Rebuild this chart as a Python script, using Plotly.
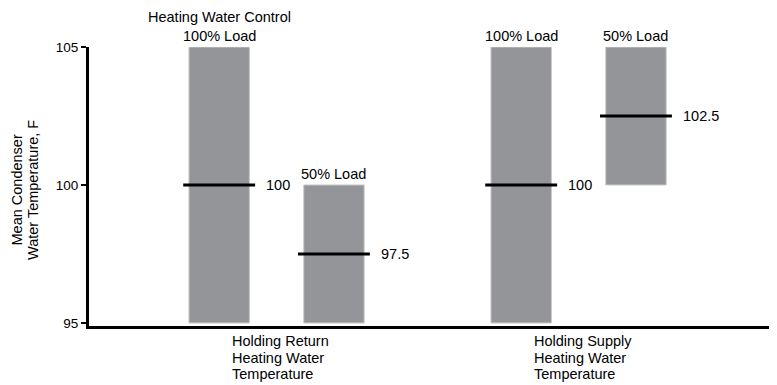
import plotly.graph_objects as go

# ---- data ----
groups = [["Holding Return", "Heating Water", "Temperature"],
          ["Holding Supply", "Heating Water", "Temperature"]]
loads = ["100% Load", "50% Load"]
bar_group = [0, 0, 1, 1]
bar_load = [0, 1, 0, 1]
low = [95, 95, 95, 100]
high = [105, 100, 105, 105]
mean = [100, 97.5, 100, 102.5]
mean_labels = ["100", "97.5", "100", "102.5"]
y_ticks = [95, 100, 105]
top_title = "Heating Water Control"
y_title = ["Mean Condenser", "Water Temperature, F"]

# ---- layout helpers ----
offset = 0.19
bar_w = 0.2
line_half = 0.119
FONT = "Liberation Sans, Arial, sans-serif"
FS = 14.5
PAGE = 8  # default body margin of the html page

xs = [g + (offset if l == 1 else -offset) for g, l in zip(bar_group, bar_load)]

fig = go.Figure()
fig.add_trace(go.Bar(
    x=xs, y=[h - b for h, b in zip(high, low)], base=low, width=bar_w,
    marker=dict(color="#939598", line=dict(color="#c8c8ca", width=1)),
    showlegend=False, hoverinfo="skip"))

for x, m in zip(xs, mean):
    fig.add_trace(go.Scatter(
        x=[x - line_half, x + line_half], y=[m, m], mode="lines",
        line=dict(color="black", width=3), showlegend=False, hoverinfo="skip"))

ann = []
for x, m, t in zip(xs, mean, mean_labels):
    ann.append(dict(x=x + line_half, y=m, text=t, xref="x", yref="y",
                    xanchor="left", yanchor="middle", xshift=9, showarrow=False))
for x, h, l in zip(xs, high, bar_load):
    ann.append(dict(x=x, y=h, text=loads[l], xref="x", yref="y",
                    xanchor="center", yanchor="bottom", yshift=1, showarrow=False))
ann.append(dict(x=xs[0], y=105, text=top_title, xref="x", yref="y",
                xanchor="center", yanchor="bottom", yshift=20, showarrow=False))
for i, g in enumerate(groups):
    for j, line in enumerate(g):
        ann.append(dict(x=i - 0.155, y=0, text=line, xref="x", yref="paper",
                        xanchor="left", yanchor="top", yshift=-5 - 16.5 * j,
                        align="left", showarrow=False))
for j, line in enumerate(y_title):
    ann.append(dict(x=0, y=0.5, text=line, xref="paper", yref="paper",
                    xanchor="center", yanchor="middle", textangle=-90,
                    xshift=-73 + 16.5 * j, yshift=-4, showarrow=False))

fig.update_layout(
    width=777 - PAGE, height=385 - PAGE,
    margin=dict(l=89 - PAGE, r=0, t=47 - PAGE, b=59),
    paper_bgcolor="white", plot_bgcolor="white",
    font=dict(family=FONT, size=FS, color="black"),
    annotations=ann,
    xaxis=dict(range=[-0.621, 1.657], showgrid=False, zeroline=False,
               showticklabels=False, ticks="", showline=True,
               linecolor="black", linewidth=3, fixedrange=True),
    yaxis=dict(range=[94.89, 105], tickvals=y_ticks, ticks="outside", ticklen=5,
               tickwidth=2, tickcolor="black", showgrid=False, zeroline=False,
               showline=True, linecolor="black", linewidth=3,
               tickfont=dict(size=13.5), fixedrange=True),
)

fig.write_html("out.html")
